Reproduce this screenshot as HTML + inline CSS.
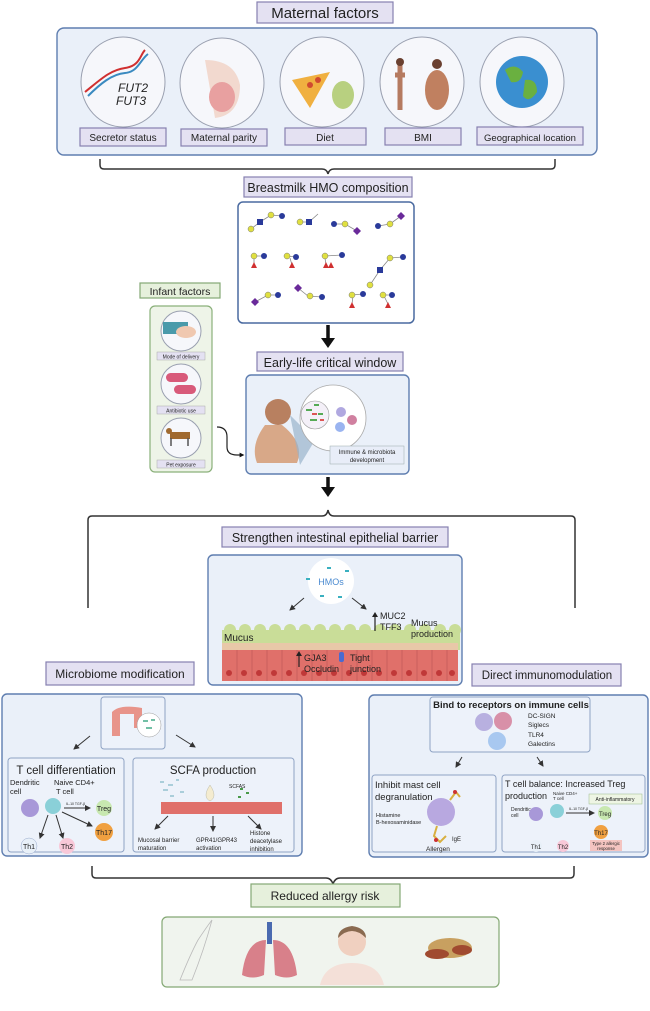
<!DOCTYPE html>
<html><head><meta charset="utf-8"><style>
html,body{margin:0;padding:0;background:#fff}
svg{display:block}
text{font-family:"Liberation Sans",sans-serif;fill:#222}
.lb{fill:#e4e1f2;stroke:#8680b0;stroke-width:1.2}
.gl{fill:#e6f0dc;stroke:#84a874;stroke-width:1.2}
.bx{fill:#eaf0f9;stroke:#5f7eb0;stroke-width:1.4}
.ib{fill:#edf2fa;stroke:#8fa3c4;stroke-width:1}
.ci{fill:#f6f7fb;stroke:#9aa0b0;stroke-width:1}
.br{fill:none;stroke:#333;stroke-width:1.5}
.ar{stroke:#333;stroke-width:1;fill:none;marker-end:url(#a)}
</style></head><body>
<svg width="650" height="1011" viewBox="0 0 650 1011">
<defs>
<marker id="a" markerWidth="6" markerHeight="6" refX="5" refY="3" orient="auto"><path d="M0,0L6,3L0,6z" fill="#333"/></marker>
<marker id="b" markerWidth="4" markerHeight="4" refX="2" refY="2" orient="auto"><path d="M0,0L4,2L0,4z" fill="#111"/></marker>
</defs>
<rect class="lb" x="257" y="2" width="136" height="21"/>
<text x="325" y="18" font-size="15" text-anchor="middle">Maternal factors</text>
<rect class="bx" x="57" y="28" width="540" height="127" rx="7"/>
<g>
<ellipse class="ci" cx="123" cy="82" rx="42" ry="45"/>
<ellipse class="ci" cx="222" cy="83" rx="42" ry="45"/>
<ellipse class="ci" cx="322" cy="82" rx="42" ry="45"/>
<ellipse class="ci" cx="422" cy="82" rx="42" ry="45"/>
<ellipse class="ci" cx="522" cy="82" rx="42" ry="45"/>
</g>
<path d="M85,92 C100,80 110,70 125,68 S140,55 145,50" stroke="#d03030" stroke-width="2" fill="none"/>
<path d="M88,96 C100,84 112,74 125,73 S140,60 148,54" stroke="#3a8ac0" stroke-width="2" fill="none"/>
<text x="118" y="92" font-size="12" font-style="italic">FUT2</text>
<text x="116" y="105" font-size="12" font-style="italic">FUT3</text>
<path d="M205,60 Q235,60 240,85 Q240,115 215,118 Z" fill="#f2d9cf"/>
<ellipse cx="222" cy="97" rx="13" ry="15" fill="#e8a0a0"/>
<path d="M292,80 L330,72 L310,108 Z" fill="#f0b040"/><circle cx="310" cy="85" r="3" fill="#d04a30"/><circle cx="318" cy="80" r="3" fill="#d04a30"/>
<ellipse cx="343" cy="95" rx="11" ry="14" fill="#b8d080"/>
<path d="M400,65 v45 M395,75 h10" stroke="#b57a60" stroke-width="5"/><circle cx="400" cy="62" r="4" fill="#6a4030"/>
<ellipse cx="437" cy="90" rx="12" ry="20" fill="#c08060"/><circle cx="437" cy="64" r="5" fill="#6a4030"/>
<circle cx="522" cy="82" r="26" fill="#3a8fd0"/><path d="M505,70 q10,-8 18,2 q-2,12 -12,10 z M525,80 q12,-2 12,12 q-8,12 -14,4 z" fill="#6ab040"/>
<rect class="lb" x="80" y="128" width="86" height="18"/><text x="123" y="141" font-size="10" text-anchor="middle">Secretor status</text>
<rect class="lb" x="181" y="129" width="86" height="17"/><text x="224" y="141" font-size="10" text-anchor="middle">Maternal parity</text>
<rect class="lb" x="285" y="128" width="81" height="17"/><text x="325" y="141" font-size="10" text-anchor="middle">Diet</text>
<rect class="lb" x="385" y="128" width="76" height="17"/><text x="423" y="141" font-size="10" text-anchor="middle">BMI</text>
<rect class="lb" x="477" y="127" width="106" height="18"/><text x="530" y="141" font-size="9.5" text-anchor="middle">Geographical location</text>
<path class="br" d="M100,159 v6 q0,4 4,4 h218 q5,0 6,5 q1,-5 6,-5 h217 q4,0 4,-4 v-6"/>
<rect class="lb" x="244" y="177" width="168" height="20"/>
<text x="328" y="192" font-size="12.5" text-anchor="middle">Breastmilk HMO composition</text>
<rect x="238" y="202" width="176" height="121" rx="5" fill="#fff" stroke="#4a6aa0" stroke-width="1.5"/>
<g stroke="#888" stroke-width="0.8" fill="none">
<path d="M251,229 L260,222 L271,215 L282,216"/><path d="M300,222 L309,222 L318,214"/><path d="M334,224 L345,224 L357,231"/><path d="M378,226 L390,224 L401,216"/>
<path d="M254,256 L264,256 M254,256 L254,265"/><path d="M287,256 L296,257 M290,258 L292,265"/><path d="M325,256 L342,255 M325,258 L326,265"/><path d="M370,285 L380,270 L390,258 L403,257"/>
<path d="M255,302 L268,295 L278,295"/><path d="M298,288 L308,296 L322,297"/><path d="M352,295 L363,294 M353,296 L352,304"/><path d="M383,295 L392,295 M384,296 L388,304"/>
</g>
<g fill="#e0e040" stroke="#777" stroke-width="0.5">
<circle cx="251" cy="229" r="3"/><circle cx="271" cy="215" r="3"/><circle cx="300" cy="222" r="3"/><circle cx="345" cy="224" r="3"/><circle cx="390" cy="224" r="3"/>
<circle cx="254" cy="256" r="3"/><circle cx="287" cy="256" r="3"/><circle cx="325" cy="256" r="3"/><circle cx="370" cy="285" r="3"/><circle cx="390" cy="258" r="3"/>
<circle cx="268" cy="295" r="3"/><circle cx="310" cy="296" r="3"/><circle cx="352" cy="295" r="3"/><circle cx="383" cy="295" r="3"/>
</g>
<g fill="#2a3a9a">
<circle cx="282" cy="216" r="3"/><circle cx="334" cy="224" r="3"/><circle cx="378" cy="226" r="3"/><circle cx="264" cy="256" r="3"/><circle cx="296" cy="257" r="3"/><circle cx="342" cy="255" r="3"/><circle cx="403" cy="257" r="3"/>
<circle cx="278" cy="295" r="3"/><circle cx="322" cy="297" r="3"/><circle cx="363" cy="294" r="3"/><circle cx="392" cy="295" r="3"/>
<rect x="257" y="219" width="6" height="6"/><rect x="306" y="219" width="6" height="6"/><rect x="377" y="267" width="6" height="6"/>
</g>
<g fill="#6a2a9a"><path d="M357,227 l4,4 l-4,4 l-4,-4z M401,212 l4,4 l-4,4 l-4,-4z M255,298 l4,4 l-4,4 l-4,-4z M298,284 l4,4 l-4,4 l-4,-4z"/></g>
<g fill="#d03030"><path d="M254,262 l3,6 h-6z M292,262 l3,6 h-6z M326,262 l3,6 h-6z M331,262 l3,6 h-6z M352,302 l3,6 h-6z M388,302 l3,6 h-6z"/></g>
<path d="M328,325 v14" stroke="#111" stroke-width="3.5"/><path d="M321,338 h14 l-7,10z" fill="#111"/>
<rect class="gl" x="140" y="283" width="80" height="15"/><text x="180" y="295" font-size="10.5" text-anchor="middle">Infant factors</text>
<rect x="150" y="306" width="62" height="166" rx="5" fill="#eef4e8" stroke="#8ab07a" stroke-width="1.2"/>
<circle class="ci" cx="181" cy="331" r="20"/><rect x="163" y="322" width="25" height="12" fill="#4a9aaa"/><ellipse cx="186" cy="332" rx="10" ry="6" fill="#f0c8b0"/>
<rect x="157" y="352" width="48" height="8" fill="#e4e1f2" stroke="#aaa" stroke-width="0.5"/><text x="181" y="358.5" font-size="5" text-anchor="middle">Mode of delivery</text>
<circle class="ci" cx="181" cy="384" r="20"/><rect x="166" y="373" width="22" height="9" rx="4.5" fill="#d85a7a"/><rect x="174" y="385" width="22" height="9" rx="4.5" fill="#d85a7a"/>
<rect x="157" y="406" width="48" height="8" fill="#e4e1f2" stroke="#aaa" stroke-width="0.5"/><text x="181" y="412.5" font-size="5" text-anchor="middle">Antibiotic use</text>
<circle class="ci" cx="181" cy="438" r="20"/><rect x="170" y="432" width="20" height="7" fill="#a06a30"/><path d="M171,438v8M188,438v8" stroke="#555" stroke-width="1.5"/><circle cx="169" cy="431" r="3" fill="#a06a30"/>
<rect x="157" y="460" width="48" height="8" fill="#e4e1f2" stroke="#aaa" stroke-width="0.5"/><text x="181" y="466.5" font-size="5" text-anchor="middle">Pet exposure</text>
<path d="M217,427 q10,0 10,10 v10 q0,8 10,8 h5" fill="none" stroke="#222" stroke-width="1.2" marker-end="url(#b)"/>
<rect class="lb" x="257" y="352" width="146" height="19"/><text x="330" y="367" font-size="12.5" text-anchor="middle">Early-life critical window</text>
<rect class="bx" x="246" y="375" width="163" height="99" rx="5"/>
<circle cx="278" cy="412" r="13" fill="#b88060"/><path d="M265,425 q-15,20 -8,38 h40 q8,-20 -15,-38z" fill="#d8a888"/>
<path d="M290,415 L300,465 L315,440z" fill="#9ab4cc" opacity="0.7"/>
<circle cx="333" cy="418" r="33" fill="#fff" stroke="#aaa" stroke-width="0.8"/>
<circle cx="315" cy="415" r="14" fill="#f4f0f8" stroke="#999" stroke-width="0.6"/>
<path d="M306,410h6M314,405h5M310,420h7M318,414h5" stroke="#5a5" stroke-width="2"/><path d="M312,414h5M320,420h4" stroke="#d55" stroke-width="2"/>
<circle cx="341" cy="412" r="5" fill="#b0a8e0"/><circle cx="340" cy="427" r="5" fill="#9ab4f0"/><circle cx="352" cy="420" r="5" fill="#d080a0"/>
<rect x="330" y="446" width="74" height="18" fill="#e8edf8" stroke="#9aa" stroke-width="0.5"/>
<text x="367" y="454" font-size="6" text-anchor="middle">Immune &amp; microbiota</text><text x="367" y="462" font-size="6" text-anchor="middle">development</text>
<path d="M328,477 v12" stroke="#111" stroke-width="3.5"/><path d="M321,487 h14 l-7,10z" fill="#111"/>
<path class="br" d="M88,608 v-88 q0,-4 4,-4 h230 q5,0 6,-6 q1,6 6,6 h237 q4,0 4,4 v88"/>
<rect class="lb" x="222" y="527" width="226" height="20"/><text x="335" y="542" font-size="12.5" text-anchor="middle">Strengthen intestinal epithelial barrier</text>
<rect class="bx" x="208" y="555" width="254" height="130" rx="5"/>
<circle cx="331" cy="581" r="23" fill="#fff"/>
<g fill="#3ab0c0"><rect x="306" y="578" width="4" height="2"/><rect x="345" y="570" width="4" height="2"/><rect x="320" y="595" width="4" height="2"/><rect x="338" y="596" width="4" height="2"/><rect x="327" y="567" width="4" height="2"/></g>
<text x="331" y="585" font-size="9" text-anchor="middle" style="fill:#4a8ad0">HMOs</text>
<path class="ar" d="M304,598 l-14,12"/><path class="ar" d="M352,598 l14,11"/>
<rect x="222" y="630" width="238" height="20" fill="#c9dd98"/>
<g fill="#c9dd98"><circle cx="230" cy="630" r="6"/><circle cx="245" cy="630" r="6"/><circle cx="260" cy="630" r="6"/><circle cx="275" cy="630" r="6"/><circle cx="290" cy="630" r="6"/><circle cx="305" cy="630" r="6"/><circle cx="320" cy="630" r="6"/><circle cx="335" cy="630" r="6"/><circle cx="350" cy="630" r="6"/><circle cx="365" cy="630" r="6"/><circle cx="380" cy="630" r="6"/><circle cx="395" cy="630" r="6"/><circle cx="410" cy="630" r="6"/><circle cx="425" cy="630" r="6"/><circle cx="440" cy="630" r="6"/><circle cx="455" cy="630" r="6"/></g>
<rect x="222" y="643" width="236" height="7" fill="#e8c8a8"/>
<rect x="222" y="650" width="236" height="31" fill="#e0706a"/>
<g stroke="#c05858" stroke-width="0.7"><path d="M237,650v31M252,650v31M267,650v31M282,650v31M297,650v31M312,650v31M327,650v31M342,650v31M357,650v31M372,650v31M387,650v31M402,650v31M417,650v31M432,650v31M447,650v31"/></g>
<g fill="#c03838"><circle cx="229" cy="673" r="3"/><circle cx="244" cy="673" r="3"/><circle cx="259" cy="673" r="3"/><circle cx="274" cy="673" r="3"/><circle cx="289" cy="673" r="3"/><circle cx="304" cy="673" r="3"/><circle cx="319" cy="673" r="3"/><circle cx="334" cy="673" r="3"/><circle cx="349" cy="673" r="3"/><circle cx="364" cy="673" r="3"/><circle cx="379" cy="673" r="3"/><circle cx="394" cy="673" r="3"/><circle cx="409" cy="673" r="3"/><circle cx="424" cy="673" r="3"/><circle cx="439" cy="673" r="3"/><circle cx="452" cy="673" r="3"/></g>
<rect x="339" y="652" width="5" height="10" rx="2" fill="#4a6ad0"/>
<text x="224" y="641" font-size="10">Mucus</text>
<path d="M375,631 v-15" stroke="#222" stroke-width="1.2"/><path d="M372,617 h6 l-3,-5z" fill="#222"/>
<text x="380" y="619" font-size="9">MUC2</text><text x="380" y="630" font-size="9">TFF3</text>
<text x="411" y="626" font-size="9">Mucus</text><text x="411" y="637" font-size="9">production</text>
<path d="M299,667 v-12" stroke="#222" stroke-width="1.2"/><path d="M296,656 h6 l-3,-5z" fill="#222"/>
<text x="304" y="661" font-size="9">GJA3</text><text x="304" y="672" font-size="9">Occludin</text>
<text x="350" y="661" font-size="9">Tight</text><text x="350" y="672" font-size="9">junction</text>
<rect class="lb" x="46" y="662" width="148" height="23"/><text x="120" y="678" font-size="12" text-anchor="middle">Microbiome modification</text>
<rect class="lb" x="472" y="664" width="149" height="22"/><text x="547" y="679" font-size="11.5" text-anchor="middle">Direct immunomodulation</text>
<rect class="bx" x="2" y="694" width="300" height="162" rx="5"/>
<rect class="ib" x="101" y="697" width="64" height="52" rx="3"/>
<path d="M112,712 q8,-8 30,-4 v20 h-8 v-14 h-14 v22 h-8z" fill="#e8948a"/>
<circle cx="149" cy="725" r="12" fill="#fff" stroke="#999" stroke-width="0.5"/><path d="M143,721h5M146,728h6M151,720h4" stroke="#4a8" stroke-width="1.6"/>
<path class="ar" d="M90,736 l-16,13"/><path class="ar" d="M176,735 l19,12"/>
<rect class="ib" x="8" y="758" width="116" height="94" rx="3"/>
<text x="66" y="774" font-size="11.5" text-anchor="middle">T cell differentiation</text>
<text x="10" y="785" font-size="7.5">Dendritic</text><text x="10" y="794" font-size="7.5">cell</text>
<text x="54" y="785" font-size="7.5">Naive CD4+</text><text x="56" y="794" font-size="7.5">T cell</text>
<circle cx="30" cy="808" r="9" fill="#a898d8"/><circle cx="53" cy="806" r="8" fill="#8ad0d8"/>
<path class="ar" d="M64,808h26" stroke-width="0.6"/><text x="66" y="805" font-size="3.5">IL-10 TGF-β</text>
<circle cx="104" cy="808" r="8" fill="#c8e8b0"/><text x="104" y="811" font-size="7" text-anchor="middle">Treg</text>
<circle cx="104" cy="832" r="9" fill="#f0a040"/><text x="104" y="835" font-size="7" text-anchor="middle">Th17</text>
<circle cx="29" cy="846" r="8" fill="#e8f0f8" stroke="#9ac" stroke-width="0.5"/><text x="29" y="849" font-size="7" text-anchor="middle">Th1</text>
<circle cx="67" cy="846" r="8" fill="#f8c8d8"/><text x="67" y="849" font-size="7" text-anchor="middle">Th2</text>
<path class="ar" d="M48,815 l-8,23" stroke-width="0.6"/><path class="ar" d="M56,815 l7,23" stroke-width="0.6"/><path class="ar" d="M62,812 l30,14" stroke-width="0.6"/>
<rect class="ib" x="133" y="758" width="161" height="94" rx="3"/>
<text x="213" y="774" font-size="11.5" text-anchor="middle">SCFA production</text>
<g stroke="#6ab" stroke-width="1"><path d="M160,782h4M168,785h5M176,780h3M163,790h5M180,792h4M170,796h4"/></g>
<path d="M210,785 q-8,12 0,16 q8,-4 0,-16z" fill="#f4ecd0" stroke="#bba" stroke-width="0.5"/>
<text x="229" y="788" font-size="5">SCFAS</text><g fill="#4a9a4a"><rect x="240" y="788" width="3" height="2"/><rect x="246" y="792" width="3" height="2"/><rect x="238" y="796" width="3" height="2"/></g>
<rect x="161" y="802" width="121" height="12" fill="#e0706a"/>
<path class="ar" d="M168,816 l-13,13"/><path d="M213,816 v15" class="ar"/><path class="ar" d="M248,816 l13,13"/>
<text x="138" y="842" font-size="6">Mucosal barrier</text><text x="138" y="850" font-size="6">maturation</text>
<text x="196" y="842" font-size="6">GPR41/GPR43</text><text x="196" y="850" font-size="6">activation</text>
<text x="250" y="835" font-size="6">Histone</text><text x="250" y="843" font-size="6">deacetylase</text><text x="250" y="851" font-size="6">inhibition</text>
<rect class="bx" x="369" y="695" width="279" height="162" rx="5"/>
<rect class="ib" x="430" y="697" width="160" height="55" rx="3"/>
<text x="511" y="708" font-size="9.5" text-anchor="middle" font-weight="bold">Bind to receptors on immune cells</text>
<circle cx="484" cy="722" r="9" fill="#b8b0e0"/><circle cx="503" cy="721" r="9" fill="#d890a8"/><circle cx="497" cy="741" r="9" fill="#a8c8f0"/>
<text x="528" y="718" font-size="6.5">DC-SIGN</text><text x="528" y="727" font-size="6.5">Siglecs</text><text x="528" y="737" font-size="6.5">TLR4</text><text x="528" y="746" font-size="6.5">Galectins</text>
<path class="ar" d="M462,757 l-6,10"/><path class="ar" d="M537,757 l6,9"/>
<rect class="ib" x="372" y="775" width="124" height="77" rx="3"/>
<text x="375" y="788" font-size="9.5">Inhibit mast cell</text><text x="375" y="800" font-size="9.5">degranulation</text>
<circle cx="441" cy="812" r="14" fill="#b8a8e0"/><path d="M450,800 l6,-8 l4,5" stroke="#d8b040" stroke-width="2" fill="none"/><circle cx="455" cy="792" r="2" fill="#c33"/>
<path d="M437,826 l-3,10 l6,6 l6,-6" stroke="#d8b040" stroke-width="2" fill="none"/><circle cx="436" cy="840" r="2" fill="#c33"/>
<text x="376" y="817" font-size="5.5">Histamine</text><text x="376" y="824" font-size="5.5">B-hexosaminidase</text>
<text x="452" y="841" font-size="6">IgE</text><text x="426" y="851" font-size="6.5">Allergen</text>
<rect class="ib" x="502" y="775" width="143" height="77" rx="3"/>
<text x="505" y="787" font-size="9">T cell balance: Increased Treg</text>
<text x="505" y="799" font-size="9">production</text>
<text x="553" y="795" font-size="4.5">Naive CD4+</text><text x="553" y="800" font-size="4.5">T cell</text>
<rect x="589" y="794" width="53" height="10" fill="#eef5e4" stroke="#9b8" stroke-width="0.5"/><text x="615" y="801" font-size="5" text-anchor="middle">Anti-inflammatory</text>
<text x="511" y="811" font-size="5">Dendritic</text><text x="511" y="817" font-size="5">cell</text>
<circle cx="536" cy="814" r="7" fill="#a898d8"/><circle cx="557" cy="811" r="7" fill="#8ad0d8"/>
<path class="ar" d="M566,813h28" stroke-width="0.5"/><text x="569" y="810" font-size="3.5">IL-10 TGF-β</text>
<circle cx="605" cy="813" r="7" fill="#c8e8b0"/><text x="605" y="816" font-size="6" text-anchor="middle">Treg</text>
<circle cx="601" cy="832" r="7" fill="#f0a040"/><text x="601" y="835" font-size="6" text-anchor="middle">Th17</text>
<rect x="590" y="840" width="32" height="11" fill="#f4c4c0"/><text x="606" y="845" font-size="4.3" text-anchor="middle">Type 2 allergic</text><text x="606" y="850" font-size="4.3" text-anchor="middle">response</text>
<circle cx="536" cy="846" r="6" fill="#e8f0f8"/><text x="536" y="849" font-size="6" text-anchor="middle">Th1</text>
<circle cx="563" cy="846" r="6" fill="#f8c8d8"/><text x="563" y="849" font-size="6" text-anchor="middle">Th2</text>
<path class="br" d="M92,866 v8 q0,4 4,4 h230 q5,0 7,6 q2,-6 7,-6 h230 q4,0 4,-4 v-8"/>
<rect class="gl" x="251" y="884" width="149" height="23"/><text x="325" y="900" font-size="12" text-anchor="middle">Reduced allergy risk</text>
<rect x="162" y="917" width="337" height="70" rx="5" fill="#f0f4ee" stroke="#84a874" stroke-width="1.2"/>
<path d="M180,980 q10,-25 18,-40 q10,-15 14,-20 q-8,30 -20,60z" fill="none" stroke="#bbb" stroke-width="0.8"/>
<rect x="267" y="922" width="5" height="22" fill="#4a6ab0"/>
<path d="M266,940 q-20,0 -24,35 q10,5 22,0z M273,940 q20,0 24,35 q-10,5 -22,0z" fill="#d8808a"/>
<circle cx="352" cy="942" r="14" fill="#f0d0c0"/><path d="M338,938 q14,-14 28,0 q0,-10 -14,-12 q-14,2 -14,12z" fill="#8a6a50"/>
<path d="M320,985 q5,-22 32,-22 q27,0 32,22z" fill="#f4e0d8"/>
<ellipse cx="450" cy="948" rx="22" ry="10" fill="#c8a060"/><ellipse cx="437" cy="954" rx="12" ry="5" fill="#a04a30"/><ellipse cx="462" cy="950" rx="10" ry="5" fill="#a04a30"/>
</svg>
</body></html>
